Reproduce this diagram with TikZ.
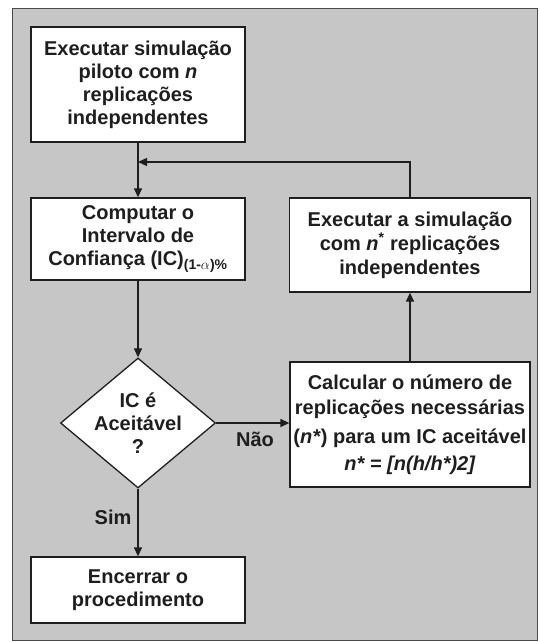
\documentclass[tikz,border=0pt]{standalone}
\usepackage{fontspec}
\setmainfont{Liberation Sans}
\usepackage{xcolor}
\usetikzlibrary{arrows.meta, positioning, shapes.geometric}
\definecolor{fundo}{HTML}{C7C6C6}
\definecolor{tinta}{HTML}{1E1E1E}

\begin{document}
\begin{tikzpicture}[x=1pt, y=-1pt,
    caixa/.style={draw=tinta, line width=1.3pt, fill=white, align=center, inner sep=0pt,
      font=\fontsize{20}{23}\selectfont\bfseries, text=tinta},
    decisao/.style={caixa, diamond, aspect=1.19, inner sep=-9pt},
    seta/.style={draw=tinta, line width=1.3pt, -{Triangle[length=9pt, width=8pt]}},
    rotulo/.style={font=\fontsize{20}{23}\selectfont\bfseries, text=tinta}]
  \useasboundingbox (0,0) rectangle (539,642);
  \draw[fill=fundo, draw=tinta!80, line width=0.8pt] (12,8) rectangle (537,640);

  \node[caixa, minimum width=214pt, minimum height=115pt] (piloto) at (138,84.5)
    {Executar simulação\\piloto com \textit{n}\\replicações\\independentes};
  \node[caixa, minimum width=214pt, minimum height=82pt] (ic) at (138,239)
    {Computar o\\Intervalo de\\Confiança (IC)\textsubscript{(1-$\alpha$)\%}};
  \node[decisao, minimum width=155pt, minimum height=130pt] (teste) at (138,423)
    {IC é\\Aceitável\\?};
  \node[caixa, minimum width=214pt, minimum height=66pt] (fim) at (138,590)
    {Encerrar o\\procedimento};
  \node[caixa, minimum width=241pt, minimum height=94pt] (novas) at (410,245)
    {Executar a simulação\\[1pt]com \textit{n}\textsuperscript{*} replicações\\[1pt]independentes};
  \node[caixa, minimum width=240pt, minimum height=125pt] (calculo) at (410,424.5)
    {Calcular o número de\\[2pt]replicações necessárias\\[6pt](\textit{n*}) para um IC aceitável\\[4pt]\textit{n* = [n(h/h*)2]}};
  \coordinate (junta) at (138,162);

  \draw[seta] (piloto) -- (ic);
  \draw[seta] (ic) -- (teste);
  \draw[seta] (teste) -- (fim);
  \draw[seta] (teste.east) -- (teste.east -| calculo.west);
  \draw[seta] (calculo) -- (novas);
  \draw[seta] (novas.north) |- (junta);

  \node[rotulo] (nao) at (255,439) {Não};
  \node[rotulo] (sim) at (113,517) {Sim};
\end{tikzpicture}
\end{document}
